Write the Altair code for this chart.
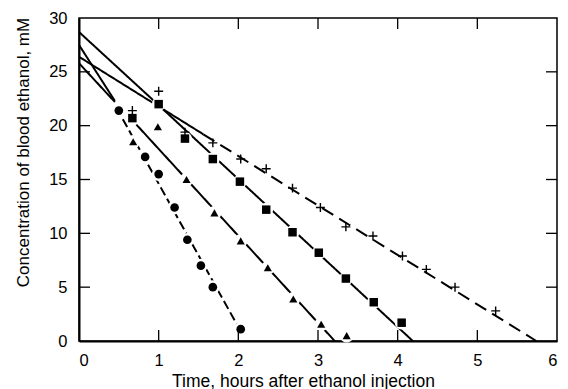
import altair as alt
import pandas as pd

# ---- data ----
circle_t = [0.5, 0.83, 1.0, 1.2, 1.36, 1.53, 1.68, 2.03]
circle_c = [21.4, 17.1, 15.5, 12.4, 9.4, 7.0, 5.0, 1.1]

triangle_t = [0.68, 0.99, 1.35, 1.70, 2.03, 2.37, 2.69, 3.04, 3.36]
triangle_c = [18.5, 19.9, 15.0, 11.9, 9.3, 6.8, 3.9, 1.55, 0.5]

square_t = [0.67, 1.0, 1.33, 1.68, 2.02, 2.35, 2.68, 3.01, 3.35, 3.70, 4.05]
square_c = [20.7, 22.0, 18.8, 16.9, 14.8, 12.2, 10.1, 8.2, 5.8, 3.6, 1.7]

plus_t = [0.67, 1.0, 1.33, 1.68, 2.03, 2.35, 2.68, 3.03, 3.35, 3.69, 4.06, 4.36, 4.72, 5.23]
plus_c = [21.4, 23.2, 19.4, 18.4, 16.9, 16.0, 14.2, 12.4, 10.6, 9.75, 7.9, 6.65, 5.0, 2.8]

# fitted line segments (start and end points) and their drawing style
seg_names = ["circle_a", "circle_b", "tri_a", "tri_b", "sq_a", "sq_b", "plus_a", "plus_b"]
seg_style = ["solid", "dash", "solid", "solid", "solid", "solid", "solid", "longdash"]
seg_t0 = [0.0, 0.55, 0.0, 0.72, 0.0, 1.0, 0.0, 1.56]
seg_c0 = [27.5, 20.6, 25.8, 20.1, 28.7, 21.9, 26.4, 19.2]
seg_t1 = [0.45, 2.0, 0.45, 3.21, 1.0, 4.19, 1.56, 5.74]
seg_c1 = [22.3, 1.3, 22.2, 0.0, 21.9, 0.0, 19.2, 0.0]

x_ticks = [0, 1, 2, 3, 4, 5, 6]
y_ticks = [0, 5, 10, 15, 20, 25, 30]
x_inner = [1, 2, 3, 4, 5]
y_inner = [5, 10, 15, 20, 25]

# ---- tables ----
lines = pd.DataFrame({
    "seg": seg_names * 2,
    "style": seg_style * 2,
    "t": seg_t0 + seg_t1,
    "c": seg_c0 + seg_c1,
})
circles = pd.DataFrame({"t": circle_t, "c": circle_c})
triangles = pd.DataFrame({"t": triangle_t, "c": triangle_c})
squares = pd.DataFrame({"t": square_t, "c": square_c})
pluses = pd.DataFrame({"t": plus_t, "c": plus_c})
halo = pd.concat([circles, triangles, squares], ignore_index=True)
xt = pd.DataFrame({"t": x_inner})
yt = pd.DataFrame({"c": y_inner})

W, H = 478, 323
FONT = "Liberation Sans"

xscale = alt.Scale(domain=[0, 6], nice=False, zero=False)
yscale = alt.Scale(domain=[0, 30], nice=False, zero=False)

xaxis = alt.Axis(
    values=x_ticks, format="d", ticks=False, grid=False,
    domain=True, domainColor="black", domainWidth=2,
    labelFont=FONT, labelFontSize=16.5, labelColor="black", labelPadding=11,
    title="Time, hours after ethanol injection",
    titleFont=FONT, titleFontSize=17.5, titleFontWeight="normal", titleColor="black",
    titleX=224, titleY=45, titleBaseline="alphabetic", titleAlign="center",
)
yaxis = alt.Axis(
    values=y_ticks, format="d", ticks=False, grid=False,
    domain=True, domainColor="black", domainWidth=2,
    labelFont=FONT, labelFontSize=16.5, labelColor="black", labelPadding=12,
    title="Concentration of blood ethanol, mM",
    titleFont=FONT, titleFontSize=17, titleFontWeight="normal", titleColor="black",
    titleX=-51, titleY=134, titleBaseline="alphabetic", titleAlign="center", titleAngle=-90,
)

X = alt.X("t:Q", scale=xscale, axis=xaxis)
Y = alt.Y("c:Q", scale=yscale, axis=yaxis)

line_layer = alt.Chart(lines).mark_line(color="black", strokeWidth=2).encode(
    x=X, y=Y, detail="seg:N",
    strokeDash=alt.StrokeDash(
        "style:N",
        scale=alt.Scale(domain=["solid", "dash", "longdash"],
                        range=[[1, 0], [9, 4], [13, 7]]),
        legend=None,
    ),
)

halo_layer = alt.Chart(halo).mark_point(
    shape="circle", filled=True, color="white", opacity=1, size=190
).encode(x="t:Q", y="c:Q")

circle_layer = alt.Chart(circles).mark_point(
    shape="circle", filled=True, color="black", opacity=1, size=75
).encode(x="t:Q", y="c:Q")

square_layer = alt.Chart(squares).mark_point(
    shape="square", filled=True, color="black", opacity=1, size=72
).encode(x="t:Q", y="c:Q")

triangle_layer = alt.Chart(triangles).mark_point(
    shape="triangle-up", filled=True, color="black", opacity=1, size=66
).encode(x="t:Q", y="c:Q")

plus_layer = alt.Chart(pluses).mark_point(
    shape="M-1,0H1M0,-1V1", filled=False, color="black", opacity=1,
    size=80, strokeWidth=1.4
).encode(x="t:Q", y="c:Q")

tick_bottom = alt.Chart(xt).mark_rule(color="black", strokeWidth=1.3).encode(
    x="t:Q", y=alt.value(H), y2=alt.value(H - 11))
tick_top = alt.Chart(xt).mark_rule(color="black", strokeWidth=1.3).encode(
    x="t:Q", y=alt.value(0), y2=alt.value(11))
tick_left = alt.Chart(yt).mark_rule(color="black", strokeWidth=1.3).encode(
    y="c:Q", x=alt.value(0), x2=alt.value(11))
tick_right = alt.Chart(yt).mark_rule(color="black", strokeWidth=1.3).encode(
    y="c:Q", x=alt.value(W), x2=alt.value(W - 11))

chart = alt.layer(
    line_layer, halo_layer, circle_layer, square_layer, triangle_layer, plus_layer,
    tick_bottom, tick_top, tick_left, tick_right,
).properties(
    width=W, height=H,
    autosize=alt.AutoSizeParams(type="none"),
    padding={"left": 79, "top": 18, "right": 11, "bottom": 48},
    background="white",
).configure_view(
    stroke="black", strokeWidth=1.5
)

chart.save("out.html", embed_options={"renderer": "svg", "actions": False})
